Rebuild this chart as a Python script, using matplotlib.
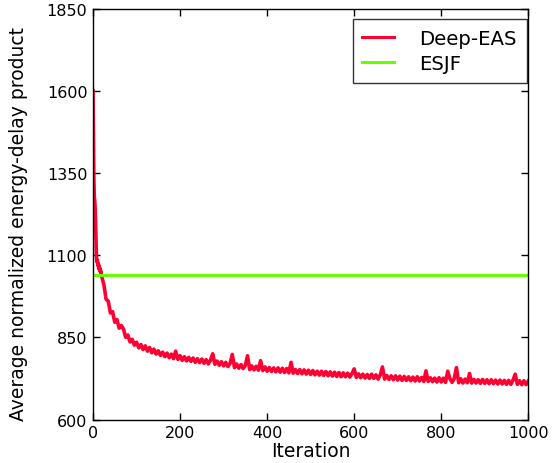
import matplotlib
matplotlib.use("Agg")
import matplotlib.pyplot as plt

# iterations: every step at the start (steep drop), then every 5
ITER_START = list(range(0, 21))
EDP_START = [1600, 1450, 1330, 1275, 1265, 1240, 1190, 1130, 1090, 1080,
             1085, 1070, 1075, 1060, 1068, 1055, 1060, 1048, 1052, 1040, 1035]

ITER_REST = list(range(25, 1001, 5))
EDP_REST = [
    1010, 966, 960, 924, 928, 896, 904, 878, 886,
    875, 850, 857, 836, 844, 826, 835, 818, 828, 813,
    824, 808, 819, 803, 814, 799, 809, 795, 805, 791,
    802, 788, 799, 785, 808, 783, 794, 780, 791, 778,
    789, 777, 787, 774, 785, 773, 784, 771, 782, 769,
    781, 800, 768, 778, 765, 776, 763, 774, 761, 771,
    798, 758, 769, 756, 767, 755, 765, 794, 752, 763,
    751, 762, 750, 779, 749, 760, 747, 758, 746, 757,
    745, 757, 744, 756, 743, 755, 742, 774, 741, 752,
    740, 752, 739, 751, 738, 750, 737, 749, 736, 747,
    735, 747, 734, 746, 733, 745, 732, 744, 731, 743,
    730, 742, 730, 741, 729, 740, 754, 728, 739, 727,
    738, 726, 737, 725, 738, 725, 736, 723, 736, 760,
    723, 734, 722, 733, 721, 733, 720, 732, 719, 731,
    719, 730, 718, 729, 717, 730, 717, 728, 716, 748,
    716, 727, 715, 726, 714, 727, 714, 726, 713, 747,
    724, 713, 725, 758, 712, 724, 711, 723, 712, 740,
    711, 722, 711, 721, 710, 722, 710, 721, 709, 721,
    709, 720, 708, 720, 708, 719, 707, 719, 707, 720,
    738, 707, 718, 706, 718, 706, 717,
]

iterations = ITER_START + ITER_REST
deep_eas = EDP_START + EDP_REST
esjf_value = 1040

fig = plt.figure(figsize=(5.52, 4.64), dpi=100)
ax = fig.add_axes([0.1685, 0.0937, 0.7885, 0.8858])

ax.plot(iterations, deep_eas, color="#ff0033", lw=2.6, label="Deep-EAS")
ax.axhline(esjf_value, color="#66ff00", lw=2.2, label="ESJF")

ax.set_xlim(0, 1000)
ax.set_ylim(600, 1850)
ax.set_xticks([0, 200, 400, 600, 800, 1000])
ax.set_yticks([600, 850, 1100, 1350, 1600, 1850])
ax.tick_params(direction="in", top=True, right=True, length=5, width=1,
               labelsize=11.5, pad=4)
for s in ax.spines.values():
    s.set_linewidth(1.0)

ax.set_xlabel("Iteration", fontsize=13.5, labelpad=1)
ax.set_ylabel("Average normalized energy-delay product", fontsize=13.5)
ax.yaxis.set_label_coords(-0.149, 0.478)

leg = ax.legend(loc="upper right", bbox_to_anchor=(0.997, 0.974),
                borderaxespad=0, fontsize=14.2, handlelength=1.6,
                handletextpad=1.3, labelspacing=0.3, borderpad=0.5,
                fancybox=False)
leg.get_frame().set_edgecolor("black")
leg.get_frame().set_linewidth(1.0)
for line in leg.get_lines():
    line.set_linewidth(2.2)

fig.savefig("out.png", dpi=100)
